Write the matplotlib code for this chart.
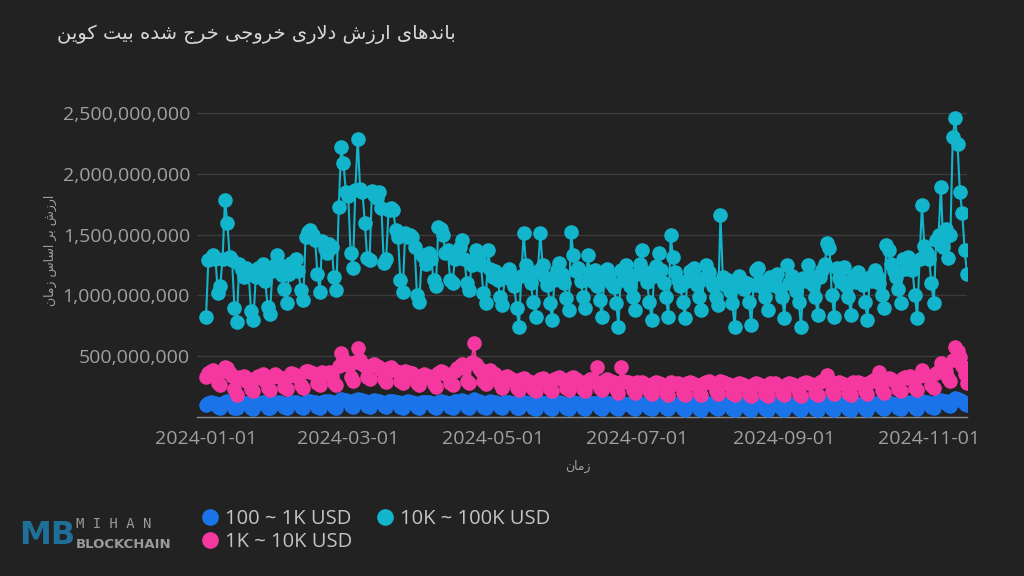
import numpy as np
import pandas as pd
import matplotlib
matplotlib.use("Agg")
import matplotlib.pyplot as plt
import matplotlib.dates as mdates
from matplotlib.ticker import FuncFormatter

# daily values in millions of USD, one row per week (Mon..Sun), starting 2024-01-01
cyan_10k_100k = [
    820, 1290, 1310, 1330, 1300, 1020, 1080,
    1300, 1785, 1600, 1315, 1290, 900, 780,
    1260, 1210, 1150, 1230, 1180, 870, 800,
    1150, 1230, 1190, 1260, 1120, 905, 850,
    1200, 1250, 1330, 1260, 1170, 1050, 940,
    1180, 1270, 1230, 1300, 1200, 1045, 960,
    1480, 1520, 1540, 1500, 1460, 1180, 1030,
    1450, 1380, 1350, 1420, 1400, 1150, 1045,
    1725, 2220, 2090, 1850, 1820, 1350, 1225,
    1870, 2290, 1880, 1850, 1595, 1310, 1290,
    1860, 1830, 1800, 1850, 1720, 1265, 1300,
    1700, 1720, 1700, 1540, 1480, 1125, 1030,
    1510, 1480, 1500, 1480, 1400, 1000, 945,
    1330, 1320, 1260, 1350, 1300, 1125, 1080,
    1560, 1550, 1500, 1350, 1370, 1125, 1100,
    1300, 1350, 1400, 1455, 1300, 1100, 1045,
    1250, 1300, 1370, 1290, 1250, 1020, 940,
    1370, 1220, 1150, 1200, 1130, 990, 920,
    1150, 1190, 1220, 1120, 1080, 900, 740,
    1160, 1510, 1250, 1180, 1100, 950, 820,
    1200, 1510, 1250, 1150, 1090, 940, 800,
    1130, 1210, 1270, 1180, 1100, 980, 880,
    1520, 1330, 1200, 1230, 1120, 990, 900,
    1330, 1190, 1120, 1210, 1080, 960, 820,
    1140, 1220, 1160, 1100, 1070, 940, 740,
    1210, 1130, 1250, 1170, 1080, 990, 880,
    1180, 1260, 1370, 1190, 1110, 950, 800,
    1160, 1240, 1350, 1210, 1100, 990, 820,
    1500, 1315, 1190, 1130, 1080, 950, 815,
    1120, 1200, 1150, 1230, 1090, 990, 880,
    1140, 1250, 1190, 1110, 1080, 990, 920,
    1660, 1150, 1090, 1130, 1040, 940, 740,
    1080, 1160, 1120, 1050, 1100, 950, 755,
    1090, 1210, 1225, 1120, 1060, 990, 880,
    1150, 1090, 1140, 1180, 1050, 990, 815,
    1250, 1100, 1160, 1120, 1040, 950, 740,
    1140, 1120, 1250, 1160, 1090, 990, 840,
    1150, 1210, 1260, 1430, 1390, 1000, 820,
    1225, 1140, 1110, 1235, 1080, 990, 840,
    1160, 1110, 1190, 1150, 1090, 950, 800,
    1150, 1120, 1210, 1160, 1100, 1000, 900,
    1415, 1370, 1260, 1200, 1150, 1050, 935,
    1300, 1220, 1315, 1280, 1210, 1000, 815,
    1300, 1745, 1410, 1350, 1300, 1100, 935,
    1455, 1500, 1890, 1400, 1550, 1305, 1500,
    2300, 2460, 2250, 1850, 1680, 1370, 1180,
]

pink_1k_10k = [
    330, 360, 380, 390, 350, 280, 260,
    380, 410, 400, 360, 340, 230, 180,
    330, 320, 340, 300, 310, 230, 210,
    320, 340, 330, 350, 300, 240, 220,
    330, 350, 340, 330, 320, 250, 230,
    340, 360, 350, 340, 330, 260, 240,
    380, 380, 370, 360, 350, 280, 260,
    370, 360, 350, 370, 340, 280, 260,
    420, 525, 480, 450, 430, 330, 300,
    450, 567, 470, 440, 420, 330, 310,
    430, 440, 420, 410, 390, 310, 290,
    400, 410, 390, 380, 370, 300, 280,
    380, 370, 360, 360, 340, 280, 260,
    340, 350, 330, 340, 330, 270, 250,
    360, 380, 370, 350, 340, 280, 260,
    380, 400, 420, 440, 400, 300, 280,
    450, 608, 440, 400, 380, 300, 270,
    380, 390, 360, 350, 330, 270, 240,
    330, 340, 320, 310, 300, 240, 220,
    310, 320, 300, 300, 290, 230, 210,
    300, 310, 320, 300, 290, 230, 210,
    310, 320, 330, 310, 300, 240, 220,
    320, 330, 310, 300, 290, 230, 210,
    300, 310, 300, 290, 410, 240, 220,
    300, 310, 300, 300, 290, 230, 200,
    410, 300, 290, 290, 280, 220, 200,
    290, 280, 290, 270, 260, 210, 190,
    280, 290, 280, 270, 260, 200, 180,
    290, 280, 270, 280, 260, 200, 180,
    280, 290, 280, 270, 260, 200, 180,
    280, 290, 300, 280, 270, 210, 190,
    300, 290, 280, 270, 260, 200, 180,
    270, 280, 270, 260, 250, 190, 170,
    270, 280, 270, 260, 250, 190, 170,
    280, 270, 280, 260, 250, 200, 180,
    270, 280, 270, 260, 250, 190, 170,
    280, 290, 280, 270, 260, 200, 180,
    290, 300, 310, 345, 300, 210, 190,
    280, 290, 280, 270, 260, 200, 180,
    290, 280, 290, 280, 270, 210, 190,
    290, 300, 310, 300, 370, 220, 200,
    310, 320, 310, 300, 290, 230, 210,
    320, 330, 320, 340, 320, 240, 220,
    340, 385, 350, 340, 330, 260, 240,
    360, 380, 445, 400, 380, 320, 300,
    470, 575, 540, 490, 420, 350, 280,
]

blue_100_1k = [
    100, 115, 120, 118, 112, 80, 72,
    118, 125, 130, 120, 115, 78, 70,
    110, 115, 112, 118, 108, 75, 68,
    112, 118, 115, 120, 110, 78, 70,
    115, 120, 118, 122, 112, 80, 72,
    118, 122, 120, 125, 115, 82, 74,
    125, 130, 128, 126, 120, 85, 78,
    122, 128, 125, 130, 120, 85, 76,
    135, 145, 140, 138, 132, 92, 84,
    140, 150, 142, 138, 130, 92, 85,
    135, 138, 132, 130, 125, 88, 80,
    130, 132, 128, 125, 120, 85, 78,
    125, 128, 124, 122, 118, 82, 75,
    120, 124, 122, 120, 115, 80, 74,
    125, 130, 126, 122, 118, 84, 76,
    128, 132, 135, 138, 128, 86, 78,
    135, 145, 132, 128, 122, 84, 76,
    125, 128, 122, 120, 116, 80, 72,
    120, 124, 120, 118, 114, 78, 70,
    118, 122, 118, 116, 112, 76, 68,
    116, 120, 118, 115, 110, 75, 68,
    115, 118, 120, 116, 110, 76, 68,
    118, 120, 116, 114, 110, 74, 66,
    114, 116, 114, 112, 118, 74, 66,
    112, 115, 112, 110, 108, 72, 64,
    115, 112, 110, 110, 106, 72, 64,
    110, 112, 110, 108, 104, 70, 62,
    108, 112, 110, 106, 102, 70, 62,
    110, 108, 106, 106, 102, 68, 60,
    106, 110, 108, 104, 100, 68, 60,
    106, 110, 112, 106, 102, 70, 62,
    112, 108, 106, 104, 100, 68, 60,
    104, 108, 106, 102, 98, 66, 58,
    104, 108, 106, 102, 98, 66, 58,
    106, 104, 106, 102, 98, 66, 58,
    104, 108, 104, 100, 96, 64, 56,
    106, 110, 108, 104, 100, 66, 58,
    108, 110, 112, 118, 108, 68, 60,
    106, 110, 108, 104, 100, 66, 58,
    108, 106, 110, 106, 102, 68, 60,
    108, 110, 112, 110, 115, 70, 62,
    112, 116, 114, 110, 106, 72, 64,
    115, 118, 116, 120, 115, 75, 66,
    120, 128, 122, 120, 116, 80, 70,
    125, 130, 138, 132, 128, 100, 92,
    140, 155, 148, 140, 132, 110, 95,
]

series_labels = ["100 ~ 1K USD", "1K ~ 10K USD", "10K ~ 100K USD"]
y_ticks = [500e6, 1000e6, 1500e6, 2000e6, 2500e6]

title_fa = "باندهای ارزش دلاری خروجی خرج شده بیت کوین"
ylabel_fa = "ارزش بر اساس زمان"
xlabel_fa = "زمان"

BG = "#232222"
C_BLUE = "#1a73e8"
C_PINK = "#f538a0"
C_CYAN = "#12b5cb"
TXT = "#a0a0a0"

# Persian letters -> (isolated, final, initial, medial) presentation forms
FORMS = {
    "ا": ("\uFE8D", "\uFE8E", None, None),
    "ب": ("\uFE8F", "\uFE90", "\uFE91", "\uFE92"),
    "ت": ("\uFE95", "\uFE96", "\uFE97", "\uFE98"),
    "ج": ("\uFE9D", "\uFE9E", "\uFE9F", "\uFEA0"),
    "خ": ("\uFEA5", "\uFEA6", "\uFEA7", "\uFEA8"),
    "د": ("\uFEA9", "\uFEAA", None, None),
    "ر": ("\uFEAD", "\uFEAE", None, None),
    "ز": ("\uFEAF", "\uFEB0", None, None),
    "س": ("\uFEB1", "\uFEB2", "\uFEB3", "\uFEB4"),
    "ش": ("\uFEB5", "\uFEB6", "\uFEB7", "\uFEB8"),
    "ل": ("\uFEDD", "\uFEDE", "\uFEDF", "\uFEE0"),
    "م": ("\uFEE1", "\uFEE2", "\uFEE3", "\uFEE4"),
    "ن": ("\uFEE5", "\uFEE6", "\uFEE7", "\uFEE8"),
    "ه": ("\uFEE9", "\uFEEA", "\uFEEB", "\uFEEC"),
    "و": ("\uFEED", "\uFEEE", None, None),
    "\u06CC": ("\uFBFC", "\uFBFD", "\uFBFE", "\uFBFF"),
    "\u06A9": ("\uFB8E", "\uFB8F", "\uFB90", "\uFB91"),
}


def shape_fa(text):
    """Join Persian letters by hand and put them in visual (LTR) order."""
    text = text.replace("\u064A", "\u06CC").replace("\u0649", "\u06CC").replace("\u0643", "\u06A9")
    chars = list(text)
    n = len(chars)

    def joins_next(c):
        return c in FORMS and FORMS[c][2] is not None

    out = []
    i = 0
    while i < n:
        c = chars[i]
        if c not in FORMS:
            out.append(c)
            i += 1
            continue
        prev = chars[i - 1] if i > 0 else ""
        if c == "ل" and i + 1 < n and chars[i + 1] == "ا":
            out.append("\uFEFC" if joins_next(prev) else "\uFEFB")
            i += 2
            continue
        nxt = chars[i + 1] if i + 1 < n else ""
        a = joins_next(prev)
        b = joins_next(c) and nxt in FORMS
        iso, fin, ini, med = FORMS[c]
        out.append(med if a and b else fin if a else ini if b else iso)
        i += 1
    return "".join(reversed(out))


plt.rcParams["font.family"] = ["Open Sans", "DejaVu Sans"]

dates = pd.date_range("2024-01-01", periods=len(cyan_10k_100k), freq="D")
cyan = np.array(cyan_10k_100k) * 1e6
pink = np.array(pink_1k_10k) * 1e6
blue = np.array(blue_100_1k) * 1e6

fig = plt.figure(figsize=(10.24, 5.76), dpi=100, facecolor=BG)
ax = fig.add_axes([197 / 1024, 159 / 576, 770 / 1024, 316 / 576])
ax.set_facecolor(BG)

mk = dict(marker="o", markersize=10.5, linewidth=1.5, markeredgewidth=0)
h_blue, = ax.plot(dates, blue, color=C_BLUE, label=series_labels[0], zorder=3, **mk)
h_pink, = ax.plot(dates, pink, color=C_PINK, label=series_labels[1], zorder=4, **mk)
h_cyan, = ax.plot(dates, cyan, color=C_CYAN, label=series_labels[2], zorder=5, **mk)

ax.set_ylim(0, 2.6e9)
ax.set_xlim(dates[0] - pd.Timedelta(hours=91), dates[-1])
ax.set_yticks(y_ticks)
ax.yaxis.set_major_formatter(FuncFormatter(lambda v, p: f"{v:,.0f}"))
ax.xaxis.set_major_locator(mdates.MonthLocator(bymonth=[1, 3, 5, 7, 9, 11]))
ax.xaxis.set_major_formatter(mdates.DateFormatter("%Y-%m-%d"))
ax.grid(axis="y", color="#3c3b3b", linewidth=1)
ax.set_axisbelow(True)
ax.tick_params(axis="both", length=0, labelsize=14, labelcolor=TXT)
ax.tick_params(axis="y", pad=5)
ax.tick_params(axis="x", pad=9)
for side in ["top", "right", "left"]:
    ax.spines[side].set_visible(False)
ax.spines["bottom"].set_color("#8c8c8c")
ax.spines["bottom"].set_linewidth(1)

fig.text(57 / 1024, 1 - 34 / 576, shape_fa(title_fa), family="DejaVu Sans",
         fontsize=14, color="#d8d8d8", ha="left", va="center")
fig.text(578 / 1024, 1 - 466 / 576, shape_fa(xlabel_fa), family="DejaVu Sans",
         fontsize=9, color=TXT, ha="center", va="center")
# kept just left of the tick labels so the two do not collide
fig.text(50 / 1024, 1 - 250 / 576, shape_fa(ylabel_fa), family="DejaVu Sans",
         fontsize=9, color=TXT, ha="center", va="center", rotation=90)

leg = fig.legend([h_blue, h_pink, h_cyan], series_labels, ncol=2,
                 loc="upper left", bbox_to_anchor=(204 / 1024, 1 - 509 / 576),
                 frameon=False, fontsize=14.5, labelcolor="#c4c4c4",
                 handlelength=0.6, handletextpad=0.45, columnspacing=1.3,
                 labelspacing=0.15, borderaxespad=0, borderpad=0)
for h in leg.legend_handles:
    h.set_linestyle("none")
    h.set_markersize(12)

# logo
fig.text(19 / 1024, 1 - 535 / 576, "MB", fontsize=23, fontweight="bold",
         color="#1f6f98", ha="left", va="center", family="DejaVu Sans")
fig.text(76 / 1024, 1 - 524 / 576, "M I H A N", fontsize=10, color="#9a9a9a",
         ha="left", va="center", family="DejaVu Sans Mono")
fig.text(76 / 1024, 1 - 545 / 576, "BLOCKCHAIN", fontsize=9.5, fontweight="bold",
         color="#9a9a9a", ha="left", va="center", family="DejaVu Sans")

fig.savefig("out.png", dpi=100, facecolor=BG)
